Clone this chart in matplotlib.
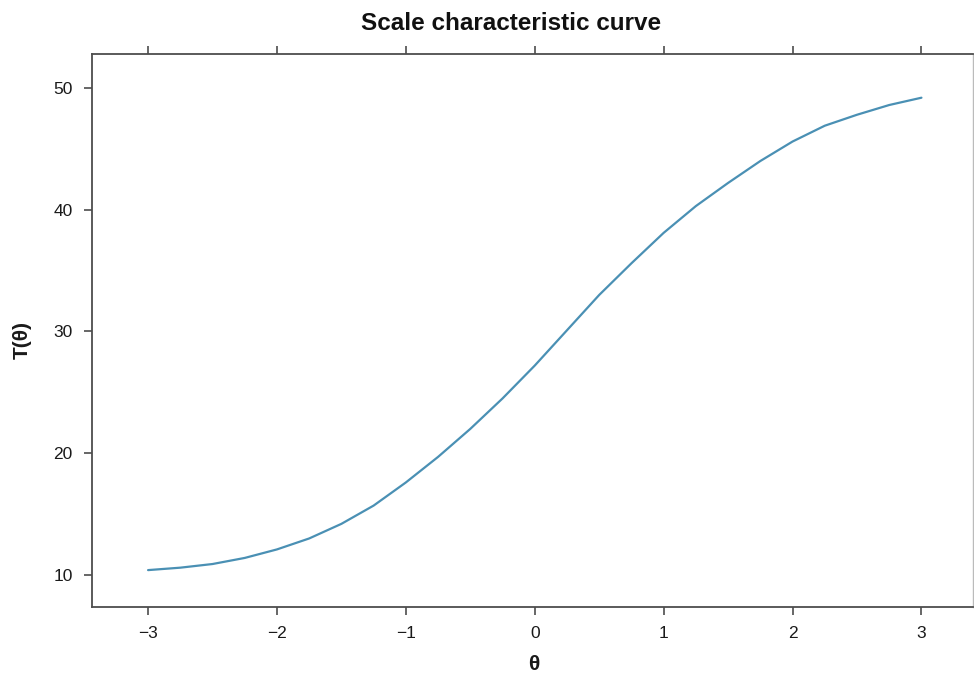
import matplotlib
matplotlib.use("Agg")
import matplotlib.pyplot as plt

plt.rcParams['font.family'] = ['Liberation Sans', 'DejaVu Sans']

theta = [-3.0, -2.75, -2.5, -2.25, -2.0, -1.75, -1.5, -1.25, -1.0, -0.75, -0.5, -0.25,
         0.0, 0.25, 0.5, 0.75, 1.0, 1.25, 1.5, 1.75, 2.0, 2.25, 2.5, 2.75, 3.0]
T_theta = [10.4, 10.6, 10.9, 11.4, 12.1, 13.0, 14.2, 15.7, 17.6, 19.7, 22.0, 24.5,
           27.2, 30.1, 33.0, 35.6, 38.1, 40.3, 42.2, 44.0, 45.6, 46.9, 47.8, 48.6, 49.2]
x_ticks = [-3, -2, -1, 0, 1, 2, 3]
y_ticks = [10, 20, 30, 40, 50]
title = "Scale characteristic curve"
xlabel = "θ"
ylabel = "T(θ)"

W, H = 974, 678
fig = plt.figure(figsize=(W / 100, H / 100), dpi=100)
ax = fig.add_axes([92 / W, 71 / H, 881 / W, 553 / H])

ax.plot(theta, T_theta, color='#4a90b4', lw=1.6, solid_capstyle='round',
        solid_joinstyle='round')
ax.set_xlim(-3.435, 3.40)
ax.set_ylim(7.37, 52.79)

ax.set_xticks(x_ticks)
ax.set_xticklabels([str(v).replace('-', '\u2212') for v in x_ticks])
ax.set_yticks(y_ticks)
ax.set_yticklabels([str(v) for v in y_ticks])

spine_col = '#4d4d4d'
for side in ['left', 'bottom', 'top']:
    ax.spines[side].set_color(spine_col)
    ax.spines[side].set_linewidth(1.3)
ax.spines['right'].set_color('#bbbbbb')
ax.spines['right'].set_linewidth(1.0)

ax.tick_params(axis='x', which='both', direction='out', length=6, width=1.2,
               color=spine_col, labelsize=12.5, pad=8, top=True, labeltop=False,
               bottom=True, labelcolor='#1a1a1a')
ax.tick_params(axis='y', which='both', direction='out', length=6, width=1.2,
               color=spine_col, labelsize=12.5, pad=8, left=True, right=False,
               labelcolor='#1a1a1a')

fig.text(511.5 / W, 1 - 24 / H, title, ha='center', va='center',
         fontsize=17.5, fontweight='bold', color='#111111')
fig.text(534 / W, 1 - 664 / H, xlabel, ha='center', va='center',
         fontsize=15, fontweight='bold', color='#1a1a1a')
fig.text(22 / W, 1 - 340 / H, ylabel, ha='center', va='center',
         fontsize=15, fontweight='bold', rotation=90, color='#1a1a1a')

fig.savefig('out.png', dpi=100)
